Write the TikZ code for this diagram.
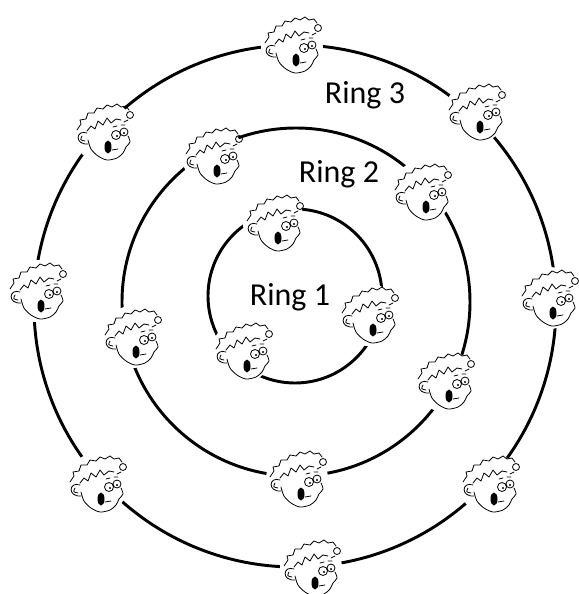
\documentclass[tikz,border=0pt]{standalone}
\usepackage{fontspec}
\setmainfont{Carlito}
\begin{document}
\begin{tikzpicture}[x=0.75pt,y=-0.75pt,
  ring/.style={line width=2.2pt},
  lbl/.style={anchor=base,inner sep=0pt,font=\fontsize{24}{28}\selectfont},
  kid/.pic={
    \fill[white] (1,0) circle (31);
    \begin{scope}[line width=0.6pt,line join=round,line cap=round]
    % hair
    \draw (-26,-2) -- (-22,-8) -- (-23,-12) -- (-17,-13) -- (-15,-19) -- (-9,-19)
      -- (-6,-24) -- (0,-23) -- (4,-27) -- (9,-25) -- (14,-28) -- (18,-25)
      -- (23,-26) -- (26,-22);
    \draw (27,-17) circle (3.5);
    \draw (25,-12) -- (21,-10);
    \draw (-16,-1) -- (-12,-6) -- (-8,-3) -- (-5,-11) -- (0,-7) -- (4,-14)
      -- (8,-9) -- (13,-13) -- (18,-12);
    % face
    \draw plot[smooth] coordinates {(-15,8) (-12,17) (-5,24) (4,28) (14,26)
      (20,21) (23,15) (27,10) (25,4)};
    \draw (-16,1) .. controls (-27,-3) and (-29,13) .. (-15,12);
    \draw (-21,4) .. controls (-23,8) .. (-18,9);
    % eyes, mouth
    \draw (13,3) circle (4.5) (21,0) circle (4);
    \fill (14,4) circle (1.2) (21,1) circle (1.2);
    \draw (10,-5) -- (14,-6) (18,-7) -- (22,-7);
    \fill (5,15) ellipse (3.5 and 6.5);
    \draw (9,18) -- (15,17);
    \end{scope}
  }]
\useasboundingbox (0,0) rectangle (579,594);

\draw[ring] (295,296) circle (87);
\draw[ring] (296,302) circle (174);
\draw[ring] (295,306) circle (261);

% ring 3
\pic (k31) at (291,45) {kid};
\pic (k32) at (475,112) {kid};
\pic (k33) at (548,298) {kid};
\pic (k34) at (489,484) {kid};
\pic (k35) at (310,568) {kid};
\pic (k36) at (96,484) {kid};
\pic (k37) at (36,291) {kid};
\pic (k38) at (103,132) {kid};
% ring 2
\pic (k21) at (212,156) {kid};
\pic (k22) at (421,192) {kid};
\pic (k23) at (444,381) {kid};
\pic (k24) at (296,479) {kid};
\pic (k25) at (131,337) {kid};
% ring 1
\pic (k11) at (273,223) {kid};
\pic (k12) at (368,315) {kid};
\pic (k13) at (242,351) {kid};

\node[lbl] (r3) at (365,103) {Ring 3};
\node[lbl] (r2) at (339,182) {Ring 2};
\node[lbl] (r1) at (290,305) {Ring 1};
\end{tikzpicture}
\end{document}
